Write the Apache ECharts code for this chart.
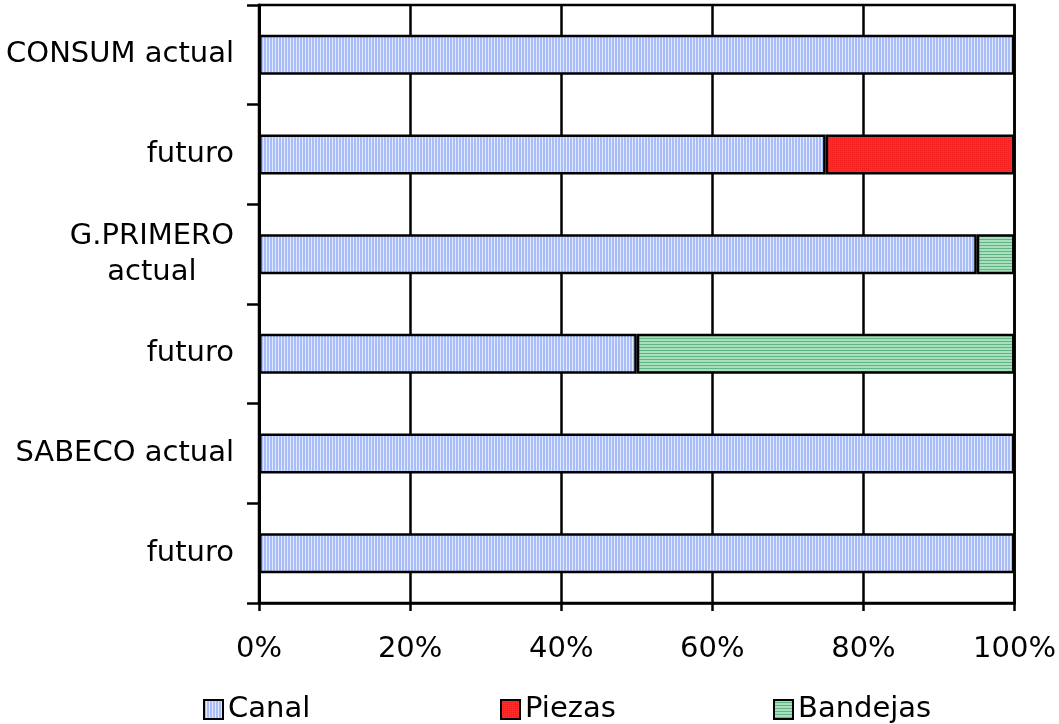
<!DOCTYPE html>
<html>
<head>
<meta charset="utf-8">
<script src="https://cdn.jsdelivr.net/npm/echarts@6/dist/echarts.min.js"></script>
<style>
html,body{margin:0;padding:0;background:#fff;}
#c{width:1059px;height:724px;}
</style>
</head>
<body>
<div id="c"></div>
<script>
const categories = ["CONSUM actual", "futuro", "G.PRIMERO\nactual", "futuro", "SABECO actual", "futuro"];
const seriesNames = ["Canal", "Piezas", "Bandejas"];
const canal = [100, 75, 95, 50, 100, 100];
const piezas = [0, 25, 0, 0, 0, 0];
const bandejas = [0, 0, 5, 50, 0, 0];
const xTicks = [0, 20, 40, 60, 80, 100];

function pattern(w, h, paint) {
  const c = document.createElement('canvas');
  c.width = w; c.height = h;
  const g = c.getContext('2d');
  paint(g);
  return { image: c, repeat: 'repeat' };
}
const canalFill = pattern(3, 3, g => {
  g.fillStyle = '#a9bdf9'; g.fillRect(0, 0, 3, 3);
  g.fillStyle = '#e2e9ff'; g.fillRect(2, 0, 1, 3);
});
const piezasFill = pattern(2, 2, g => {
  g.fillStyle = '#ff2b2b'; g.fillRect(0, 0, 2, 2);
  g.fillStyle = '#f01c1c'; g.fillRect(0, 0, 1, 1);
});
const bandejasFill = pattern(3, 3, g => {
  g.fillStyle = '#a8e0bd'; g.fillRect(0, 0, 3, 3);
  g.fillStyle = '#5fb583'; g.fillRect(0, 2, 3, 1);
});
const fills = [canalFill, piezasFill, bandejasFill];
const values = [canal, piezas, bandejas];

const FONT = 'DejaVu Sans';
const FS = 29;

const chart = echarts.init(document.getElementById('c'), null, { renderer: 'canvas' });

const legendLefts = [203, 500, 773];
const option = {
  animation: false,
  backgroundColor: '#fff',
  grid: {
    left: 259, right: 44, top: 5, bottom: 121,
    show: true, borderColor: '#000', borderWidth: 2.5, backgroundColor: 'transparent'
  },
  legend: seriesNames.map((n, i) => ({
    data: [n],
    left: legendLefts[i],
    top: 695,
    padding: 0,
    icon: 'rect',
    itemWidth: 19,
    itemHeight: 19,
    itemGap: 0,
    textStyle: { fontFamily: FONT, fontSize: FS, color: '#000' }
  })),
  xAxis: {
    type: 'value',
    min: 0, max: 100, interval: 20,
    axisLine: { show: true, lineStyle: { color: '#000', width: 2.5 } },
    axisTick: { show: true, length: 8, lineStyle: { color: '#000', width: 2.5 } },
    splitLine: { show: true, lineStyle: { color: '#000', width: 2.5 } },
    axisLabel: {
      margin: 32,
      fontFamily: FONT, fontSize: FS, color: '#000',
      formatter: v => v + '%'
    }
  },
  yAxis: {
    type: 'category',
    inverse: true,
    data: categories.map((c, i) => 'k' + i),
    axisLine: { show: true, lineStyle: { color: '#000', width: 3 } },
    axisTick: { show: true, length: 12, lineStyle: { color: '#000', width: 2.5 } },
    splitLine: { show: false },
    axisLabel: {
      margin: 25,
      fontFamily: FONT, fontSize: FS, color: '#000', lineHeight: 36,
      formatter: (v, i) => {
        const lines = categories[i].split('\n');
        if (lines.length > 1) return lines.map(l => '{m|' + l + '}').join('\n');
        return categories[i];
      },
      rich: { m: { align: 'center', fontFamily: FONT, fontSize: FS, color: '#000', lineHeight: 36 } }
    }
  },
  series: seriesNames.map((n, i) => ({
    name: n,
    type: 'bar',
    stack: 'total',
    barWidth: 40,
    data: values[i].map(v => v === 0 ? '-' : v),
    itemStyle: { color: fills[i], borderColor: '#000', borderWidth: 2.5 }
  }))
};
chart.setOption(option);
</script>
</body>
</html>
